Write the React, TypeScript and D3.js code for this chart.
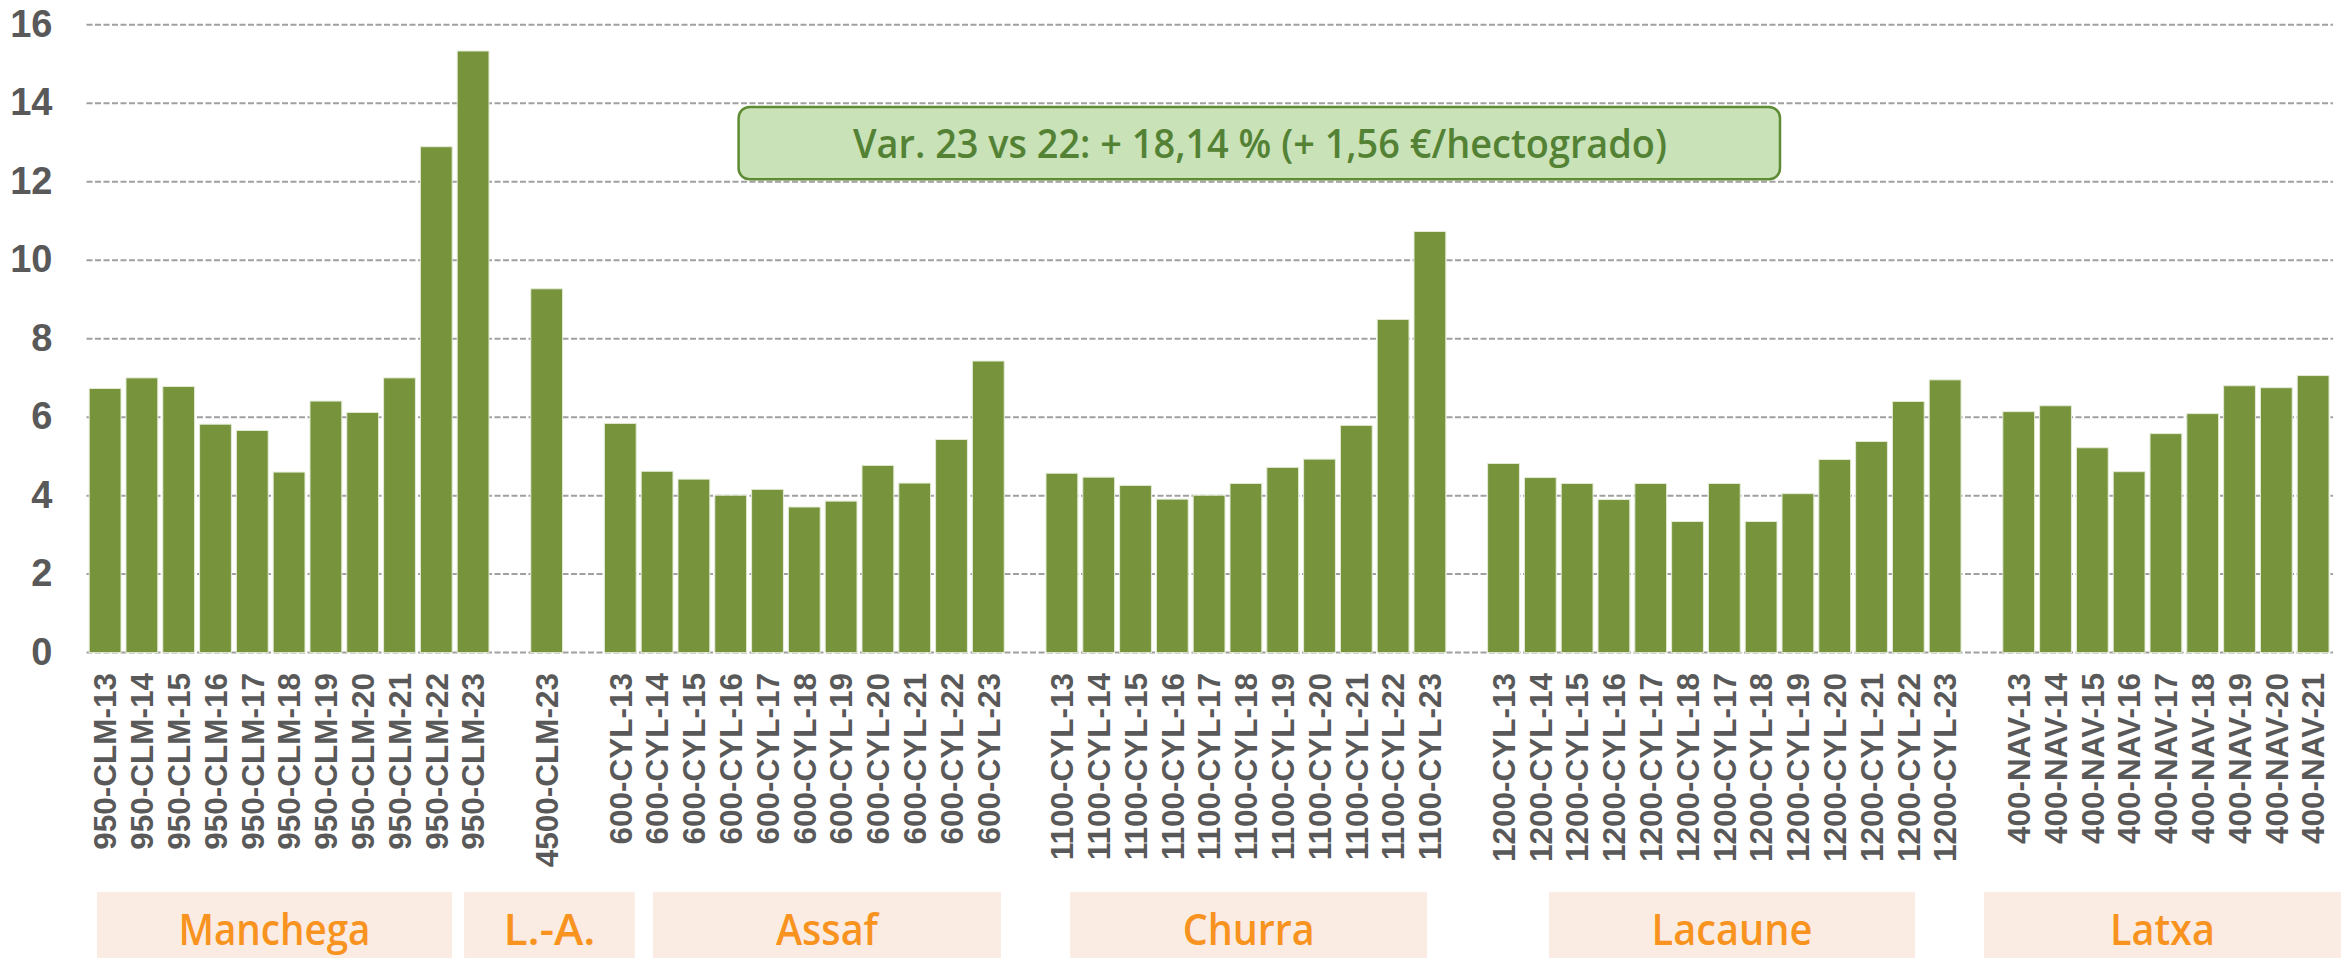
import React from 'react'
import * as d3 from 'd3'

// values (€/hectogrado)
const manchegaLabels = ['950-CLM-13', '950-CLM-14', '950-CLM-15', '950-CLM-16', '950-CLM-17', '950-CLM-18', '950-CLM-19', '950-CLM-20', '950-CLM-21', '950-CLM-22', '950-CLM-23']
const manchegaValues = [6.73, 7.0, 6.78, 5.82, 5.66, 4.6, 6.41, 6.12, 7.0, 12.89, 15.33]

const laLabels = ['4500-CLM-23']
const laValues = [9.27]

const assafLabels = ['600-CYL-13', '600-CYL-14', '600-CYL-15', '600-CYL-16', '600-CYL-17', '600-CYL-18', '600-CYL-19', '600-CYL-20', '600-CYL-21', '600-CYL-22', '600-CYL-23']
const assafValues = [5.84, 4.62, 4.42, 4.01, 4.16, 3.71, 3.86, 4.77, 4.32, 5.43, 7.43]

const churraLabels = ['1100-CYL-13', '1100-CYL-14', '1100-CYL-15', '1100-CYL-16', '1100-CYL-17', '1100-CYL-18', '1100-CYL-19', '1100-CYL-20', '1100-CYL-21', '1100-CYL-22', '1100-CYL-23']
const churraValues = [4.57, 4.47, 4.26, 3.91, 4.01, 4.31, 4.72, 4.93, 5.79, 8.49, 10.73]

const lacauneLabels = ['1200-CYL-13', '1200-CYL-14', '1200-CYL-15', '1200-CYL-16', '1200-CYL-17', '1200-CYL-18', '1200-CYL-17', '1200-CYL-18', '1200-CYL-19', '1200-CYL-20', '1200-CYL-21', '1200-CYL-22', '1200-CYL-23']
const lacauneValues = [4.82, 4.46, 4.31, 3.9, 4.31, 3.34, 4.31, 3.34, 4.05, 4.92, 5.38, 6.4, 6.95]

const latxaLabels = ['400-NAV-13', '400-NAV-14', '400-NAV-15', '400-NAV-16', '400-NAV-17', '400-NAV-18', '400-NAV-19', '400-NAV-20', '400-NAV-21']
const latxaValues = [6.14, 6.29, 5.22, 4.61, 5.58, 6.09, 6.8, 6.75, 7.06]

const groupNames = ['Manchega', 'L.-A.', 'Assaf', 'Churra', 'Lacaune', 'Latxa']
const yTicks = [0, 2, 4, 6, 8, 10, 12, 14, 16]
const note = 'Var. 23 vs 22: + 18,14 % (+ 1,56 €/hectogrado)'

// layout
const width = 2344
const height = 958
const plotLeft = 86.5
const plotRight = 2333
const yTop = 24.7
const yBottom = 652.6
const labelTop = 673
// name boxes, in slot units (they are hand-placed in the original)
const boxSpans = [[0.285, 9.93], [10.26, 14.9], [15.39, 24.85], [26.73, 36.43], [39.74, 49.69], [51.56, 61.26]]
const nameWidths = [192, 92, 102, 132, 161, 105]

const barColor = '#77933C'
const gridColor = '#A0A0A0'
const textGray = '#595959'

const groups = [
  [manchegaLabels, manchegaValues],
  [laLabels, laValues],
  [assafLabels, assafValues],
  [churraLabels, churraValues],
  [lacauneLabels, lacauneValues],
  [latxaLabels, latxaValues],
]

type Slot = { key: string, label: string, value: number | null }
const slots: Slot[] = []
groups.forEach(([labels, values], g) => {
  if (g > 0) slots.push({ key: `gap-${g}`, label: '', value: null })
  labels.forEach((l, i) => slots.push({ key: `${g}-${i}`, label: l as string, value: values[i] as number }))
})

export default function App() {
  const x = d3.scaleBand<string>()
    .domain(slots.map(d => d.key))
    .range([plotLeft, plotLeft + 36.8 * 61.011])
    .paddingInner(0.136)
    .paddingOuter(0.073)

  const y = d3.scaleLinear().domain([0, 16]).range([yBottom, yTop])

  const slotX = (u: number) => x.range()[0] + u * x.step()

  return (
    <svg width={width} height={height} style={{ position: 'absolute', left: 0, top: 0, display: 'block', background: '#fff' }}>
      {/* grid */}
      {yTicks.map(t => (
        <line key={t} x1={plotLeft} x2={plotRight} y1={y(t)} y2={y(t)}
          stroke={gridColor} strokeWidth={2} strokeDasharray="6,2.5" />
      ))}
      {yTicks.map(t => (
        <text key={'t' + t} x={52.5} y={y(t) - 1.5} dy="0.36em" textAnchor="end"
          fontFamily="'Liberation Sans', Arial, sans-serif" fontWeight="bold" fontSize={38} fill={textGray}>{t}</text>
      ))}

      {/* bars */}
      {slots.filter(d => d.value !== null).map(d => (
        <rect key={d.key} x={x(d.key)} y={y(d.value as number)} width={x.bandwidth()}
          height={y(0) - y(d.value as number)} fill={barColor} stroke="#E3EBD6" strokeWidth={1} />
      ))}

      {/* category labels */}
      {slots.filter(d => d.label).map(d => {
        const cx = (x(d.key) as number) + x.bandwidth() / 2
        return (
          <text key={'l' + d.key} transform={`translate(${cx},${labelTop}) rotate(-90)`} dy="0.36em" textAnchor="end"
            fontFamily="'Liberation Sans', Arial, sans-serif" fontWeight="bold" fontSize={31.5} fill={textGray}>{d.label}</text>
        )
      })}

      {/* breed boxes */}
      {groupNames.map((name, i) => {
        const x0 = slotX(boxSpans[i][0])
        const x1 = slotX(boxSpans[i][1])
        return (
          <g key={name}>
            <rect x={x0} y={892} width={x1 - x0} height={height - 892} fill="#FBECE3" />
            <text x={(x0 + x1) / 2} y={945} textAnchor="middle" fontFamily="'Open Sans', sans-serif" fontWeight={600}
              fontSize={43} fill="#F7931E" textLength={nameWidths[i]} lengthAdjust="spacingAndGlyphs">{name}</text>
          </g>
        )
      })}

      {/* variation note */}
      <rect x={738.6} y={107} width={1780 - 738.6} height={179.3 - 107} rx={11} ry={11}
        fill="#C9E2B8" stroke="#5E8C35" strokeWidth={2.5} />
      <text x={1260} y={158.3} textAnchor="middle" fontFamily="'Open Sans', sans-serif" fontWeight={600}
        fontSize={40} fill="#548235" textLength={814} lengthAdjust="spacingAndGlyphs">{note}</text>
    </svg>
  )
}
